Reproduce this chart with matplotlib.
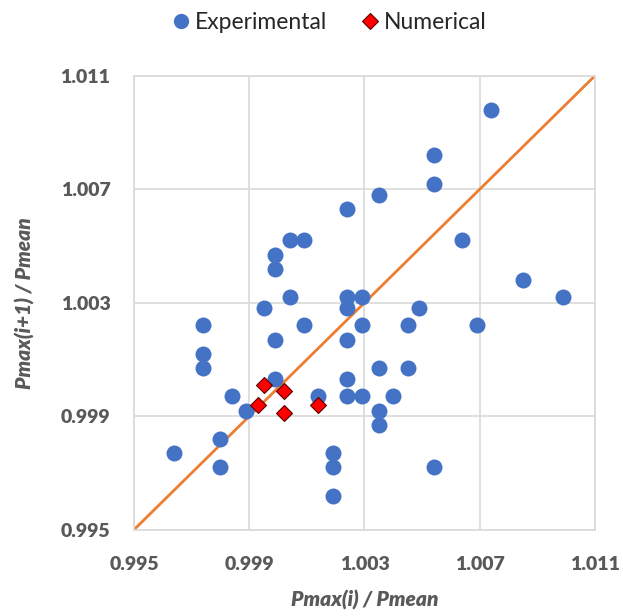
import matplotlib.pyplot as plt
from matplotlib.lines import Line2D

plt.rcParams['font.family'] = ['Lato', 'DejaVu Sans']

# experimental points
exp_x = [1.0074, 1.0054, 1.0054, 1.0035, 1.0024, 1.0064, 1.0004, 1.0009, 0.9999, 0.9999,
         1.0085, 1.0099, 1.0004, 1.0024, 1.0029, 0.9995, 1.0024, 1.0049, 0.9974, 1.0009,
         1.0029, 1.0045, 1.0069, 0.9999, 1.0024, 0.9974, 0.9974, 1.0035, 1.0045, 0.9999,
         1.0024, 0.9984, 1.0014, 1.0024, 1.0029, 1.0040, 0.9989, 1.0035, 1.0035, 0.9980,
         0.9964, 1.0019, 0.9980, 1.0019, 1.0054, 1.0019]
exp_y = [1.0098, 1.0082, 1.0072, 1.0068, 1.0063, 1.0052, 1.0052, 1.0052, 1.0047, 1.0042,
         1.0038, 1.0032, 1.0032, 1.0032, 1.0032, 1.0028, 1.0028, 1.0028, 1.0022, 1.0022,
         1.0022, 1.0022, 1.0022, 1.0017, 1.0017, 1.0012, 1.0007, 1.0007, 1.0007, 1.0003,
         1.0003, 0.9997, 0.9997, 0.9997, 0.9997, 0.9997, 0.9992, 0.9992, 0.9987, 0.9982,
         0.9977, 0.9977, 0.9972, 0.9972, 0.9972, 0.9962]

# numerical points
num_x = [0.9995, 1.0002, 0.9993, 1.0002, 1.0014]
num_y = [1.0001, 0.9999, 0.9994, 0.9991, 0.9994]

ticks = [0.995, 0.999, 1.003, 1.007, 1.011]
lims = [0.995, 1.011]

fig = plt.figure(figsize=(6.23, 6.16), dpi=100)
ax = fig.add_axes([0.215, 0.140, 0.740, 0.737])

ax.plot(lims, lims, color='#ED7D31', lw=2, zorder=2)
ax.plot(exp_x, exp_y, 'o', color='#4472C4', ms=11.5, mec='none', zorder=3)
ax.plot(num_x, num_y, 'D', color='#FF0000', ms=8.5, mec='#5a0000', mew=0.8, zorder=4)

ax.set_xlim(lims)
ax.set_ylim(lims)
ax.set_xticks(ticks)
ax.set_yticks(ticks)
ax.set_xticklabels([f'{t:.3f}' for t in ticks])
ax.set_yticklabels([f'{t:.3f}' for t in ticks])
ax.grid(True, color='#D9D9D9', lw=1.2, zorder=0)
ax.set_axisbelow(True)
for s in ax.spines.values():
    s.set_color('#D9D9D9')
    s.set_linewidth(1.2)
ax.tick_params(length=0, labelsize=14, labelcolor='#595959')
ax.tick_params(axis='x', pad=19)
ax.tick_params(axis='y', pad=17)
for lab in ax.get_xticklabels() + ax.get_yticklabels():
    lab.set_fontweight('heavy')

ax.set_xlabel('Pmax(i) / Pmean', fontsize=15, style='italic', fontweight='heavy',
              color='#595959', labelpad=12)
ax.set_ylabel('Pmax(i+1) / Pmean', fontsize=15, style='italic', fontweight='heavy',
              color='#595959', labelpad=18)

handles = [Line2D([], [], marker='o', ls='none', color='#4472C4', ms=11, mec='none'),
           Line2D([], [], marker='D', ls='none', color='#FF0000', ms=8.5, mec='#5a0000', mew=0.8)]
fig.legend(handles, ['Experimental', 'Numerical'], loc='center', bbox_to_anchor=(0.525, 0.963),
           ncol=2, frameon=False, fontsize=16.5, handletextpad=0.0, columnspacing=1.3,
           handlelength=1.2, labelcolor='#262626')

plt.savefig('out.png', dpi=100)
